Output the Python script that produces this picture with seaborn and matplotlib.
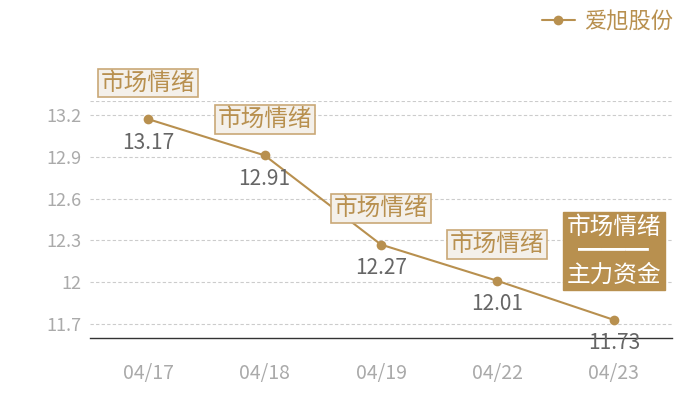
import numpy as np
import pandas as pd
import seaborn as sns
import matplotlib.pyplot as plt

# Chart data
dates = ["04/17", "04/18", "04/19", "04/22", "04/23"]
prices = [13.17, 12.91, 12.27, 12.01, 11.73]
y_ticks = [11.7, 12.0, 12.3, 12.6, 12.9, 13.2]
y_tick_labels = ["11.7", "12", "12.3", "12.6", "12.9", "13.2"]
series_name = "爱旭股份"
tag_text = "市场情绪"
last_tag_text = "市场情绪\n" + "\u2501" * 3 + "\n主力资金"

gold = "#b8904f"
box_fill = "#f4f0ea"
box_edge = "#c9a877"

sns.set_theme(style="white")
plt.rcParams['font.family'] = ['Noto Sans CJK SC', 'DejaVu Sans']

df = pd.DataFrame({"date": dates, "price": prices, "name": series_name})

fig = plt.figure(figsize=(7, 4), dpi=100)
ax = fig.add_axes([0.1286, 0.155, 0.8314, 0.5925])

sns.lineplot(data=df, x="date", y="price", hue="name", palette=[gold], marker="o",
             markersize=7, markeredgewidth=0, linewidth=1.5, sort=False, ax=ax)

ax.set_xlim(-0.5, len(dates) - 0.5)
ax.set_ylim(11.6, 13.3)
ax.set_yticks(y_ticks)
ax.set_yticklabels(y_tick_labels)
ax.set_xlabel("")
ax.set_ylabel("")

# Dashed grid lines, including the top one
for v in y_ticks + [13.3]:
    ax.axhline(v, color="#cccccc", linestyle=(0, (3, 2)), linewidth=0.8, zorder=0)

for s in ["left", "right", "top"]:
    ax.spines[s].set_visible(False)
ax.spines["bottom"].set_color("#333333")
ax.spines["bottom"].set_linewidth(1)
ax.tick_params(axis="both", length=0, labelcolor="#aaaaaa")
ax.tick_params(axis="x", pad=18, labelsize=14)
ax.tick_params(axis="y", pad=6, labelsize=13)

# Value labels under each point
for i, v in enumerate(prices):
    ax.annotate(f"{v:.2f}", (i, v), xytext=(0, -9), textcoords="offset points",
                ha="center", va="top", fontsize=15, color="#666666")

# Tag boxes above each point
for i, v in enumerate(prices[:-1]):
    ax.annotate(tag_text, (i, v), xytext=(0, 26), textcoords="offset points",
                ha="center", va="center", fontsize=17, color=gold,
                bbox=dict(boxstyle="square,pad=0.12", fc=box_fill, ec=box_edge, lw=1.2),
                annotation_clip=False)

ax.annotate(last_tag_text, (len(prices) - 1, prices[-1]), xytext=(0, 24),
            textcoords="offset points", ha="center", va="bottom", fontsize=17,
            color="white", linespacing=1.05,
            bbox=dict(boxstyle="square,pad=0.15", fc=gold, ec=gold, lw=1),
            annotation_clip=False)

# Legend in top-right corner
leg = ax.legend(loc="upper right", bbox_to_anchor=(0.99, 1.025), bbox_transform=fig.transFigure,
                frameon=False, fontsize=16, handlelength=1.5, handletextpad=0.4)
for t in leg.get_texts():
    t.set_color(gold)

fig.savefig("out.png", dpi=100)
